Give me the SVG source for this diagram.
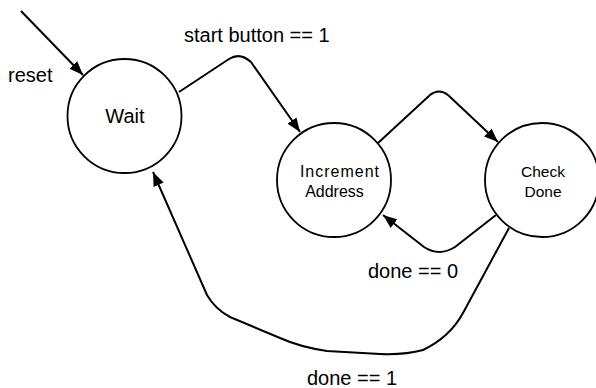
<svg xmlns="http://www.w3.org/2000/svg" width="596" height="388" viewBox="0 0 596 388">
  <defs>
    <marker id="arr" markerUnits="userSpaceOnUse" markerWidth="14" markerHeight="11" refX="14" refY="5.5" orient="auto">
      <path d="M0,0 L14,5.5 L0,11 z" fill="#000"/>
    </marker>
    <style>
      .state { fill: #fff; stroke: #000; stroke-width: 1.8; }
      .edge { fill: none; stroke: #000; stroke-width: 2; stroke-linejoin: round; marker-end: url(#arr); }
      .lbl { font-family: "Liberation Sans", Arial, sans-serif; font-size: 20px; fill: #000; }
      .st { font-family: "Liberation Sans", Arial, sans-serif; fill: #000; text-anchor: middle; }
    </style>
  </defs>
  <rect width="596" height="388" fill="#fff"/>
  <g id="connectors">
    <path id="reset" class="edge" d="M21,11 L83,75"/>
    <path id="wait-inc" class="edge" d="M179,92 L229,59 Q240,52 251,62 L300,132"/>
    <path id="inc-check" class="edge" d="M378,143 L430,95 Q439,88 448,95 L498,142"/>
    <path id="check-inc" class="edge" d="M496,215 L455,247 Q439,257 424,247 L383,215"/>
    <path id="check-wait" class="edge" d="M509,228 L463,313 Q450,337 423,350 Q405,355 380,354 L327,351 Q300,347 280,338 L230,317 Q215,309 207,295 L153,172"/>
  </g>
  <g id="labels">
    <text class="lbl" x="8" y="82">reset</text>
    <text class="lbl" x="184" y="42">start button == 1</text>
    <text class="lbl" x="368" y="278">done == 0</text>
    <text class="lbl" x="307" y="385">done == 1</text>
  </g>
  <g id="wait">
    <circle class="state" cx="124.5" cy="116" r="57"/>
    <text class="st" x="125" y="123" font-size="20">Wait</text>
  </g>
  <g id="increment-address">
    <circle class="state" cx="334" cy="180" r="57"/>
    <text class="st" x="340" y="177" font-size="16" letter-spacing="1">Increment</text>
    <text class="st" x="334.5" y="197" font-size="16">Address</text>
  </g>
  <g id="check-done">
    <circle class="state" cx="542" cy="180" r="57"/>
    <text class="st" x="543" y="177" font-size="15.5">Check</text>
    <text class="st" x="543" y="197" font-size="15.5">Done</text>
  </g>
</svg>
